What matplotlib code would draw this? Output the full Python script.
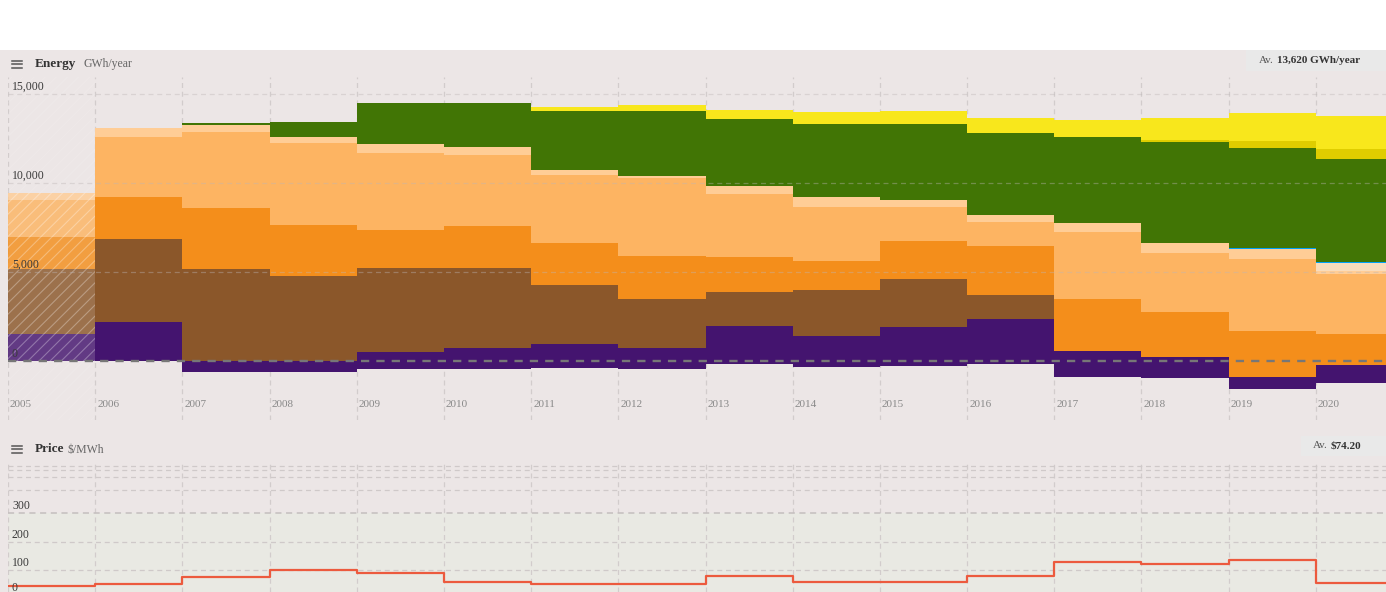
import numpy as np
import matplotlib
matplotlib.use("Agg")
import matplotlib.pyplot as plt
from matplotlib.patches import Rectangle
from matplotlib.lines import Line2D
import matplotlib.transforms as mtransforms

plt.rcParams['font.family'] = ['Liberation Serif', 'DejaVu Serif']
plt.rcParams['hatch.linewidth'] = 0.8

# Données (GWh/an)
years = np.arange(2005, 2021)
exports = [0, 0, -618, -618, -433, -433, -393, -433, -169, -303, -264, -169, -865, -955, -1556, -1202]
imports = [1517, 2191, 640, 640, 972, 1163, 1382, 1163, 2135, 1742, 2174, 2562, 1444, 1213, 657, 978]
brown_coal = [3668, 4680, 5169, 4775, 4685, 4528, 3298, 2770, 1927, 2551, 2697, 1315, 0, 0, 0, 0]
gas_steam = [1798, 2376, 3393, 2865, 2152, 2343, 2376, 2416, 1983, 1629, 2169, 2753, 2905, 2511, 2618, 1758]
gas_ccgt = [2096, 3337, 4303, 4607, 4343, 3989, 3803, 4365, 3539, 3067, 1893, 1365, 3798, 3331, 4028, 3371]
gas_ocgt = [360, 522, 376, 337, 472, 433, 281, 129, 433, 545, 410, 410, 472, 528, 545, 185]
gas_recip = [0, 0, 0, 0, 0, 0, 0, 0, 0, 0, 0, 0, 0, 0, 0, 449]
battery = [0, 0, 0, 0, 0, 0, 0, 0, 0, 0, 0, 0, 0, 40, 56, 56]
wind = [0, 0, 96, 854, 2303, 2472, 3331, 3652, 3747, 4084, 4236, 4573, 4831, 5634, 5618, 5787]
solar_utility = [0, 0, 0, 0, 0, 0, 0, 0, 0, 0, 0, 0, 0, 129, 427, 562]
solar_rooftop = [0, 0, 0, 0, 0, 30, 191, 337, 522, 708, 747, 843, 972, 1219, 1539, 1854]

# Prix ($/MWh)
price = [43.5, 49.5, 76, 100, 91, 57.6, 49, 49, 79, 56, 56, 80, 127, 122, 136, 53]

series = [
    (exports, '#44146F'),
    (imports, '#44146F'),
    (brown_coal, '#8B572A'),
    (gas_steam, '#F48E1B'),
    (gas_ccgt, '#FDB462'),
    (gas_ocgt, '#FFCD96'),
    (gas_recip, '#F9DCBC'),
    (battery, '#00A2FA'),
    (wind, '#417505'),
    (solar_utility, '#DFCD00'),
    (solar_rooftop, '#F8E71C'),
]

W, H = 1386, 592
BG = '#ECE6E6'
fig = plt.figure(figsize=(W / 100, H / 100), dpi=100)
fig.patch.set_facecolor('white')
fig.patches.append(Rectangle((0, 0), 1, (H - 50) / H, transform=fig.transFigure,
                             facecolor=BG, edgecolor='none', zorder=-10))


def px_axes(x0, y0, x1, y1):
    ax = fig.add_axes([x0 / W, 1 - y1 / H, (x1 - x0) / W, (y1 - y0) / H])
    ax.set_facecolor('none')
    for s in ax.spines.values():
        s.set_visible(False)
    ax.set_xticks([])
    ax.set_yticks([])
    return ax


def header(y, title, unit, unit_x, av_label, av_x0, av_y0, av_y1, av_split):
    for dy in (-3.5, 0, 3.5):
        fig.lines.append(Line2D([12 / W, 22 / W], [1 - (y + dy) / H] * 2,
                                transform=fig.transFigure, color='#555', lw=1.1))
    fig.text(35 / W, 1 - y / H, title, fontsize=9.5, fontweight='bold',
             color='#333', va='center', ha='left')
    fig.text(unit_x / W, 1 - (y + 0.5) / H, unit, fontsize=8.5, color='#666',
             va='center', ha='left')
    fig.patches.append(Rectangle((av_x0 / W, 1 - av_y1 / H), (W - av_x0) / W,
                                 (av_y1 - av_y0) / H, transform=fig.transFigure,
                                 facecolor='#E9E9E9', edgecolor='none', zorder=-5))
    yc = 1 - (av_y0 + av_y1) / 2 / H
    fig.text((av_split - 3) / W, yc, 'Av.', fontsize=8, color='#555',
             va='center', ha='right')
    fig.text(av_split / W, yc, av_label, fontsize=8, fontweight='bold',
             color='#333', va='center', ha='left')


PX_YEAR = 87.19
x_end = 2005 + (W - 8) / PX_YEAR
edges = np.append(years, years[-1] + 1)

# ---- Energie ----
ax = px_axes(8, 77, W, 420)
ax.set_xlim(2005, x_end)
ax.set_ylim(-3300, 15970)

for yr in years:
    ax.axvline(yr, color='#d2cccc', lw=0.9, ls=(0, (4, 3)), zorder=0)

base = np.zeros(len(years))
bottom_2005 = 0.0
for vals, col in series:
    v = np.array(vals, dtype=float)
    top = base + v
    lo = np.append(base, base[-1])
    hi = np.append(top, top[-1])
    # 2005 : année incomplète, plus pâle
    ax.fill_between(edges[:2], lo[:2], hi[:2], step='post', color=col,
                    alpha=0.82, lw=0, zorder=1)
    ax.fill_between(edges[1:], lo[1:], hi[1:], step='post', color=col,
                    lw=0, zorder=1)
    bottom_2005 = min(bottom_2005, top[0])
    base = top

# hachures de l'année incomplète
ax.fill_between(edges[:2], [bottom_2005] * 2, [base[0]] * 2, facecolor='none',
                hatch='///', edgecolor=(1, 1, 1, 0.3), lw=0, zorder=2)
ax.axvspan(2005, 2006, facecolor='none', hatch='///',
           edgecolor=(1, 1, 1, 0.12), lw=0, zorder=0.5)

for v in (5000, 10000, 15000):
    ax.axhline(v, color='#bdb6b6', lw=0.9, ls=(0, (4, 3)), alpha=0.4, zorder=3)
ax.axhline(0, color='#777', lw=1.7, ls=(0, (3.5, 3)), zorder=4)

for v in (0, 5000, 10000, 15000):
    ax.text(2005 + 4 / PX_YEAR, v + 400, f"{v:,}", fontsize=8.5, color='#3a3a3a',
            ha='left', va='center', zorder=5)

trans = mtransforms.blended_transform_factory(ax.transData, ax.transAxes)
for yr in years:
    ax.text(yr + 2 / PX_YEAR, 0.044, str(yr), transform=trans, fontsize=8,
            color='#888', ha='left', va='center', zorder=5)

header(64, 'Energy', 'GWh/year', 83, '13,620 GWh/year', 1246, 50, 71, 1277)

# ---- Prix ----
header(449, 'Price', '$/MWh', 68, '$74.20', 1301, 436, 456, 1331)

axp_hi = px_axes(8, 462, W, 513.3)
axp_hi.set_xlim(2005, x_end)
axp_hi.set_yscale('log')
axp_hi.set_ylim(300, 20000)
axp_hi.set_yticks([])
axp_hi.minorticks_off()
for v in (2000, 6000, 10000, 15000):
    axp_hi.axhline(v, color='#cfc9c9', lw=0.9, ls=(0, (4, 3)), zorder=1)
for yr in years:
    axp_hi.axvline(yr, color='#d2cccc', lw=0.9, ls=(0, (4, 3)), zorder=0)

axp = px_axes(8, 513.3, W, H)
axp.set_facecolor('#E9E9E3')
axp.set_xlim(2005, x_end)
axp.set_ylim(22.3, 300)
for yr in years:
    axp.axvline(yr, color='#d2cccc', lw=0.9, ls=(0, (4, 3)), zorder=0)
for v in (100, 200):
    axp.axhline(v, color='#cfc9c9', lw=0.9, ls=(0, (4, 3)), zorder=1)
axp.axhline(300, color='#c4bebe', lw=1.1, ls=(0, (4, 3)), zorder=1, clip_on=False)

axp.step(edges, np.append(price, price[-1]), where='post', color='#EC5A3E',
         lw=1.6, zorder=3)

for v in (100, 200, 300):
    axp.text(2005 + 4 / PX_YEAR, v + 25, str(v), fontsize=8.5, color='#3a3a3a',
             ha='left', va='center', zorder=5, clip_on=False)
# le "0" est remonté pour rester dans l'image
axp.text(2005 + 4 / PX_YEAR, 37, '0', fontsize=8.5, color='#3a3a3a',
         ha='left', va='center', zorder=5, clip_on=False)

fig.savefig('out.png', dpi=100, facecolor=fig.get_facecolor())
